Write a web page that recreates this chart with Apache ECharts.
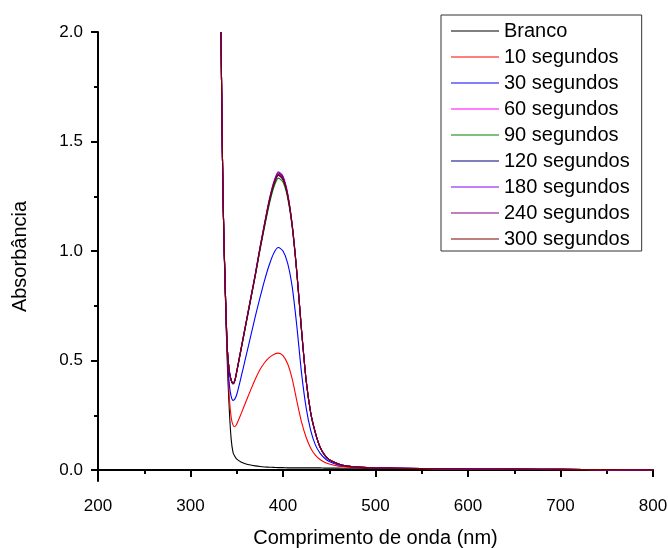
<!DOCTYPE html>
<html>
<head>
<meta charset="utf-8">
<script src="https://cdn.jsdelivr.net/npm/echarts@6/dist/echarts.min.js"></script>
<style>
  html, body { margin: 0; padding: 0; background: #fff; }
  #chart { width: 668px; height: 548px; }
</style>
</head>
<body>
<div id="chart"></div>
<script>
// comprimentos de onda (nm)
const wl = [333, 334, 335, 336, 337, 338, 339, 340, 342, 344, 346, 348, 350, 355, 360, 365, 370, 375, 380, 385, 390, 395, 400, 405, 410, 415, 420, 425, 430, 435, 440, 445, 450, 460, 470, 480, 500, 550, 600, 650, 700, 750, 800]

// absorbância de cada espectro
const branco = [2.0, 1.6, 1.3, 1.08, 0.9, 0.75, 0.6, 0.46, 0.27, 0.14, 0.08, 0.062, 0.05, 0.036, 0.028, 0.023, 0.019, 0.016, 0.014, 0.013, 0.012, 0.011, 0.011, 0.01, 0.01, 0.01, 0.01, 0.01, 0.01, 0.01, 0.01, 0.009, 0.009, 0.009, 0.008, 0.008, 0.007, 0.006, 0.005, 0.004, 0.003, 0.002, 0.002]
const s10 = [2.0, 1.6, 1.3, 1.08, 0.9, 0.75, 0.6, 0.5, 0.33, 0.24, 0.205, 0.198, 0.21, 0.26, 0.313, 0.365, 0.415, 0.458, 0.49, 0.513, 0.528, 0.534, 0.522, 0.485, 0.415, 0.315, 0.22, 0.15, 0.1, 0.068, 0.048, 0.036, 0.028, 0.018, 0.013, 0.011, 0.009, 0.006, 0.004, 0.003, 0.002, 0.001, 0.001]
const s30 = [2.0, 1.6, 1.3, 1.08, 0.91, 0.76, 0.62, 0.52, 0.39, 0.335, 0.318, 0.325, 0.345, 0.43, 0.52, 0.61, 0.7, 0.785, 0.865, 0.935, 0.99, 1.016, 1.0, 0.945, 0.835, 0.655, 0.445, 0.285, 0.18, 0.115, 0.077, 0.054, 0.039, 0.023, 0.016, 0.013, 0.01, 0.007, 0.005, 0.004, 0.003, 0.002, 0.001]
const s60 = [2.0, 1.6, 1.3, 1.08, 0.92, 0.77, 0.64, 0.54, 0.45, 0.41, 0.395, 0.41, 0.45, 0.56, 0.67, 0.78, 0.89, 1.008, 1.118, 1.222, 1.3, 1.345, 1.325, 1.252, 1.113, 0.9, 0.64, 0.41, 0.26, 0.17, 0.105, 0.068, 0.047, 0.028, 0.018, 0.014, 0.01, 0.007, 0.005, 0.004, 0.003, 0.002, 0.001]
const s90 = [2.0, 1.6, 1.3, 1.08, 0.92, 0.77, 0.64, 0.54, 0.45, 0.41, 0.393, 0.407, 0.447, 0.555, 0.665, 0.775, 0.885, 1.0, 1.108, 1.21, 1.29, 1.333, 1.315, 1.243, 1.105, 0.895, 0.637, 0.408, 0.259, 0.17, 0.105, 0.068, 0.047, 0.028, 0.018, 0.014, 0.01, 0.007, 0.005, 0.004, 0.003, 0.002, 0.001]
const s120 = [2.0, 1.6, 1.3, 1.08, 0.92, 0.77, 0.64, 0.54, 0.45, 0.41, 0.394, 0.409, 0.449, 0.558, 0.668, 0.778, 0.888, 1.006, 1.116, 1.22, 1.302, 1.347, 1.327, 1.253, 1.114, 0.9, 0.64, 0.41, 0.26, 0.17, 0.105, 0.068, 0.047, 0.028, 0.018, 0.014, 0.01, 0.007, 0.005, 0.004, 0.003, 0.002, 0.001]
const s180 = [2.0, 1.6, 1.3, 1.08, 0.92, 0.77, 0.64, 0.54, 0.45, 0.41, 0.396, 0.412, 0.452, 0.563, 0.674, 0.785, 0.895, 1.015, 1.126, 1.232, 1.315, 1.362, 1.342, 1.265, 1.12, 0.905, 0.643, 0.412, 0.261, 0.171, 0.106, 0.069, 0.047, 0.028, 0.018, 0.014, 0.01, 0.007, 0.005, 0.004, 0.003, 0.002, 0.001]
const s240 = [2.0, 1.6, 1.3, 1.08, 0.92, 0.77, 0.64, 0.54, 0.45, 0.41, 0.395, 0.411, 0.451, 0.562, 0.672, 0.783, 0.893, 1.012, 1.123, 1.228, 1.31, 1.357, 1.337, 1.26, 1.117, 0.902, 0.641, 0.411, 0.26, 0.17, 0.105, 0.068, 0.047, 0.028, 0.018, 0.014, 0.01, 0.007, 0.005, 0.004, 0.003, 0.002, 0.001]
const s300 = [2.0, 1.6, 1.3, 1.08, 0.92, 0.77, 0.64, 0.54, 0.45, 0.41, 0.395, 0.41, 0.45, 0.56, 0.67, 0.78, 0.89, 1.01, 1.12, 1.225, 1.305, 1.35, 1.33, 1.255, 1.115, 0.9, 0.64, 0.41, 0.26, 0.17, 0.105, 0.068, 0.047, 0.028, 0.018, 0.014, 0.01, 0.007, 0.005, 0.004, 0.003, 0.002, 0.001]

const names = ['Branco', '10 segundos', '30 segundos', '60 segundos', '90 segundos', '120 segundos', '180 segundos', '240 segundos', '300 segundos']
const colors = ['#000000', '#ff0000', '#0000ff', '#ff00ff', '#008000', '#000080', '#8000ff', '#800080', '#800000']
const spectra = [branco, s10, s30, s60, s90, s120, s180, s240, s300]

const yTicks = [0, 0.5, 1.0, 1.5, 2.0]
const yMinorTicks = [0.25, 0.75, 1.25, 1.75]

const font = 'Liberation Sans, Arial, sans-serif'
const chart = echarts.init(document.getElementById('chart'))

chart.setOption({
  animation: false,
  backgroundColor: '#fff',
  grid: { left: 98, right: 15, top: 32, bottom: 67, outerBoundsMode: 'none' },
  legend: {
    orient: 'vertical',
    left: 441,
    top: 15,
    padding: [6, 12, 2, 10],
    itemGap: 6,
    itemWidth: 48,
    itemHeight: 1.2,
    icon: 'rect',
    borderColor: '#333',
    borderWidth: 1,
    backgroundColor: '#fff',
    selectedMode: false,
    data: names,
    textStyle: { fontFamily: font, fontSize: 20, lineHeight: 20, color: '#000' }
  },
  xAxis: {
    type: 'value',
    min: 200,
    max: 800,
    interval: 100,
    name: 'Comprimento de onda (nm)',
    nameLocation: 'middle',
    nameGap: 47,
    nameTextStyle: { fontFamily: font, fontSize: 20, color: '#000' },
    axisLine: { lineStyle: { color: '#000', width: 2 } },
    axisTick: { length: 7, lineStyle: { color: '#000', width: 2 } },
    minorTick: { show: true, splitNumber: 2, length: 4, lineStyle: { color: '#000', width: 2 } },
    axisLabel: { fontFamily: font, fontSize: 17, color: '#000', margin: 17 },
    splitLine: { show: false }
  },
  yAxis: [
    {
      type: 'value',
      min: -0.05,
      max: 2.0,
      name: 'Absorbância',
      nameLocation: 'middle',
      nameGap: 68,
      nameTextStyle: { fontFamily: font, fontSize: 20, color: '#000' },
      axisLine: { show: true, lineStyle: { color: '#000', width: 2 } },
      axisTick: { show: true, length: 7, customValues: yTicks, lineStyle: { color: '#000', width: 2 } },
      axisLabel: {
        fontFamily: font, fontSize: 17, color: '#000', margin: 15,
        customValues: yTicks,
        formatter: v => v.toFixed(1)
      },
      splitLine: { show: false }
    },
    {
      // só os tiques menores do eixo y
      type: 'value',
      min: -0.05,
      max: 2.0,
      position: 'left',
      axisLine: { show: false },
      axisTick: { show: true, length: 4, customValues: yMinorTicks, lineStyle: { color: '#000', width: 2 } },
      axisLabel: { show: false },
      splitLine: { show: false }
    }
  ],
  series: spectra.map((vals, i) => ({
    name: names[i],
    type: 'line',
    data: wl.map((x, j) => [x, vals[j]]),
    symbol: 'none',
    smooth: 0.25,
    clip: true,
    color: colors[i],
    lineStyle: { color: colors[i], width: 1.1 }
  }))
})
</script>
</body>
</html>
